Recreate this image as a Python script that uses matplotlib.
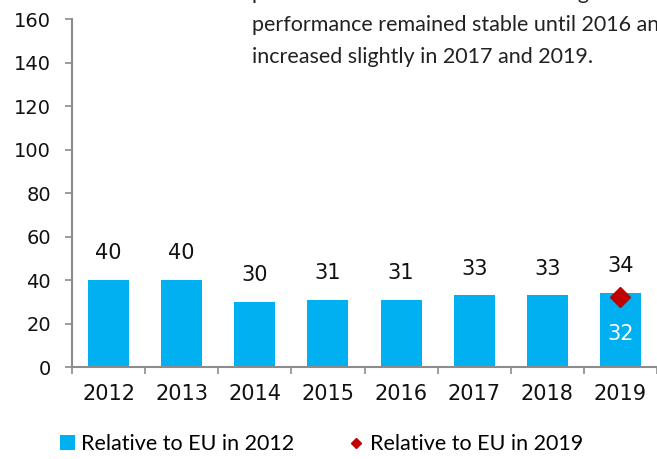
import matplotlib
matplotlib.use("Agg")
import matplotlib.pyplot as plt
from matplotlib.lines import Line2D
from matplotlib.patches import Patch
import numpy as np

years = ["2012", "2013", "2014", "2015", "2016", "2017", "2018", "2019"]
rel_2012 = [40, 40, 30, 31, 31, 33, 33, 34]
rel_2019_year = "2019"
rel_2019_value = 32

note_lines = [
    "performance of the indicator during the data",
    "performance remained stable until 2016 and",
    "increased slightly in 2017 and 2019.",
]

blue = "#00B0F0"
red = "#C00000"
grey = "#8C8C8C"

fig = plt.figure(figsize=(6.57, 4.59), dpi=100)
ax = fig.add_axes([0.1096, 0.2004, 0.8904, 0.7582])

x = np.arange(len(years))
bars = ax.bar(x, rel_2012, width=0.56, color=blue, zorder=2)

# value labels above the bars
for xi, v in zip(x, rel_2012):
    ax.annotate(str(v), (xi, v), xytext=(0, 12), textcoords="offset points",
                ha="center", va="bottom", fontsize=15, family="DejaVu Sans",
                color="#111111")

# 2019 marker with its value inside the bar
i19 = years.index(rel_2019_year)
ax.plot([i19], [rel_2019_value], marker="D", color=red, markersize=10, zorder=3,
        linestyle="none")
ax.text(i19, rel_2019_value - 17, str(rel_2019_value), ha="center", va="center",
        fontsize=15, family="DejaVu Sans", color="white", zorder=4)

ax.set_xlim(-0.5, len(years) - 0.5)
ax.set_ylim(0, 160)
ax.set_yticks(np.arange(0, 161, 20))
ax.set_xticks(x)
ax.set_xticklabels(years)
ax.set_xticks(np.arange(-0.5, len(years), 1.0), minor=True)

for side in ("top", "right"):
    ax.spines[side].set_visible(False)
for side in ("left", "bottom"):
    ax.spines[side].set_color(grey)
    ax.spines[side].set_linewidth(1.5)

ax.tick_params(axis="y", direction="out", length=5, width=1.2, color=grey,
               labelsize=14, pad=10, labelcolor="#111111")
ax.tick_params(axis="x", which="major", length=0, labelsize=15, pad=12,
               labelcolor="#111111")
ax.tick_params(axis="x", which="minor", direction="out", length=5, width=1.2,
               color=grey)
for lbl in ax.get_xticklabels() + ax.get_yticklabels():
    lbl.set_family("DejaVu Sans")

# legend below the plot
handles = [
    Patch(facecolor=blue, edgecolor="none", label="Relative to EU in 2012"),
    Line2D([], [], marker="D", color=red, linestyle="none", markersize=5,
           label="Relative to EU in 2019"),
]
fig.legend(handles=handles, loc="center", bbox_to_anchor=(0.489, 0.032), ncol=2,
           frameon=False, handlelength=0.7, handleheight=0.7, handletextpad=0.3,
           columnspacing=2.5, prop={"family": "Lato", "size": 15.5})

# commentary text in the upper right
for k, line in enumerate(note_lines):
    fig.text(252 / 657, 1 - (-7 + 32 * k) / 459, line, ha="left", va="center",
             fontsize=15.5, family="Lato", color="#222222")

fig.savefig("out.png", dpi=100)
